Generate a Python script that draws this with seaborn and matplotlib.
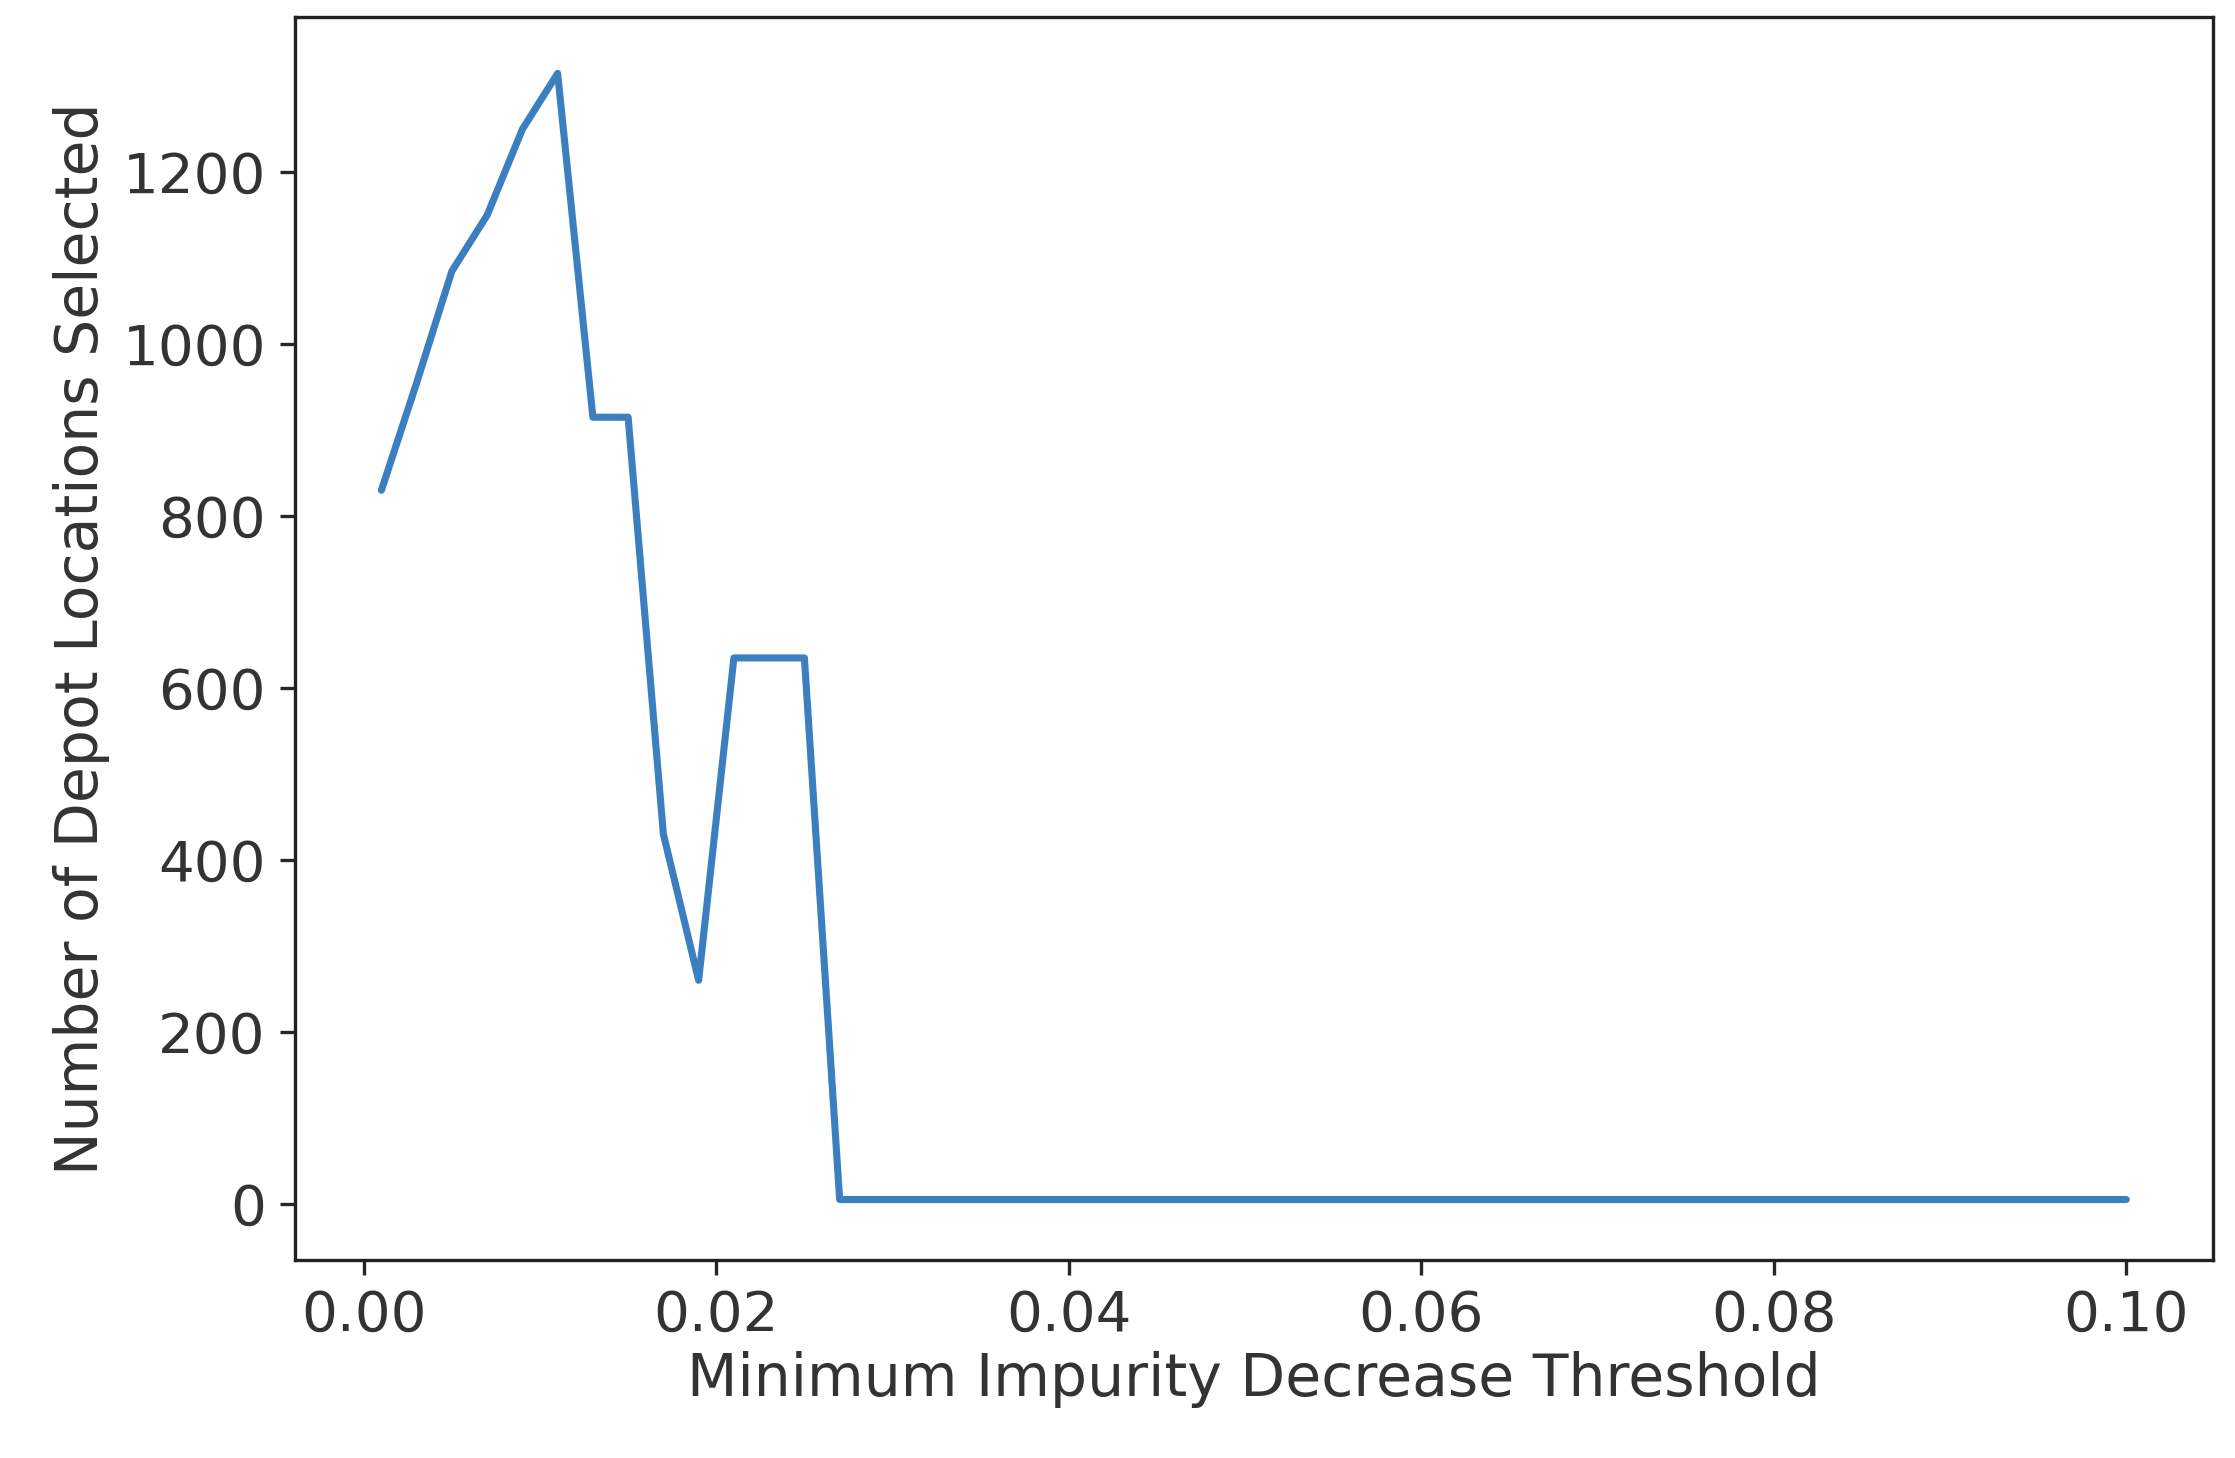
import matplotlib
matplotlib.use("Agg")
import matplotlib.pyplot as plt
import seaborn as sns
import numpy as np
import pandas as pd

thresholds = [0.001, 0.003, 0.005, 0.007, 0.009, 0.011, 0.013, 0.015, 0.017, 0.019,
              0.021, 0.023, 0.025, 0.027, 0.029, 0.04, 0.06, 0.08, 0.1]
depots = [830, 955, 1085, 1150, 1250, 1315, 915, 915, 430, 260,
          635, 635, 635, 5, 5, 5, 5, 5, 5]
xticks = [0.00, 0.02, 0.04, 0.06, 0.08, 0.10]
yticks = [0, 200, 400, 600, 800, 1000, 1200]

df = pd.DataFrame({"x": thresholds, "y": depots})
sns.set_style("ticks")
plt.rcParams['font.family'] = ['DejaVu Sans']
fig = plt.figure(figsize=(7.45, 4.86), dpi=300)
ax = fig.add_axes([0.132, 0.136, 0.858, 0.852])
sns.lineplot(data=df, x="x", y="y", ax=ax, color="#3b7fc0", linewidth=1.7)
ax.set_xticks(xticks)
ax.set_xticklabels([f"{t:.2f}" for t in xticks], fontsize=13.5, color="#333333")
ax.set_yticks(yticks)
ax.set_yticklabels([str(t) for t in yticks], fontsize=13.5, color="#333333")
ax.set_xlim(-0.0039, 0.1049)
ax.set_ylim(-65, 1380)
ax.set_xlabel("Minimum Impurity Decrease Threshold", fontsize=14, color="#333333", labelpad=2)
ax.set_ylabel("Number of Depot Locations Selected", fontsize=14, color="#333333", labelpad=3)
for s in ax.spines.values():
    s.set_visible(True)
    s.set_color("#222222")
fig.savefig("out.png", dpi=300)
